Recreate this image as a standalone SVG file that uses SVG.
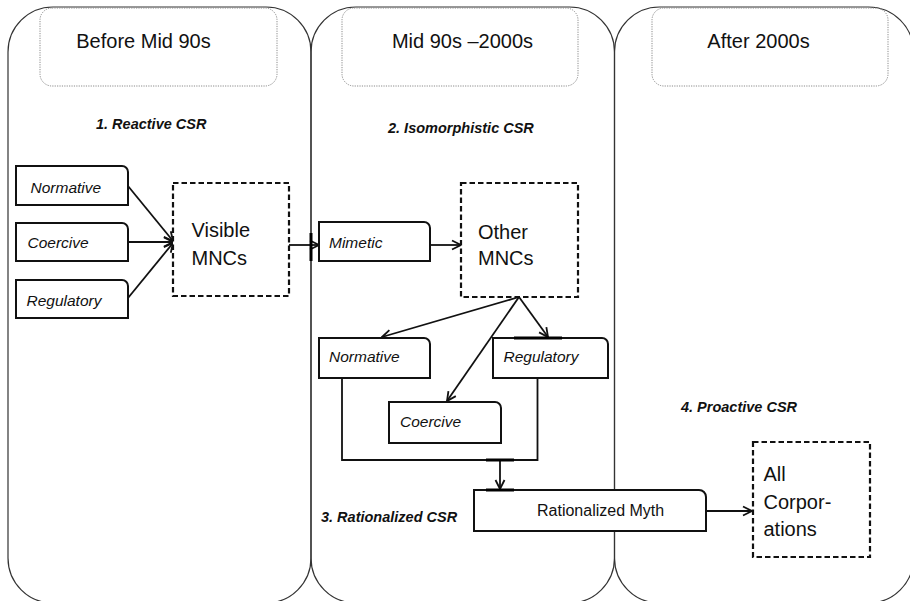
<svg xmlns="http://www.w3.org/2000/svg" width="910" height="601" viewBox="0 0 910 601">
  <defs>
    <style>
      .panel { fill: none; stroke: #333; stroke-width: 1.2; }
      .header { fill: none; stroke: #8a8a8a; stroke-width: 1; stroke-dasharray: 1.2 1.2; }
      .box { fill: #fff; stroke: #111; stroke-width: 2; }
      .dash { fill: #fff; stroke: #111; stroke-width: 2.2; stroke-dasharray: 5.5 3; }
      .conn { fill: none; stroke: #111; stroke-width: 1.8; }
      .heavy { fill: none; stroke: #000; stroke-width: 3; }
      .htext { font-family: "Liberation Sans", Arial, sans-serif; font-size: 20px; fill: #111; }
      .big { font-family: "Liberation Sans", Arial, sans-serif; font-size: 20px; fill: #111; }
      .lab { font-family: "Liberation Sans", Arial, sans-serif; font-size: 15.5px; font-style: italic; fill: #111; }
      .stage { font-family: "Liberation Sans", Arial, sans-serif; font-size: 14.5px; font-style: italic; font-weight: bold; fill: #111; }
      .myth { font-family: "Liberation Sans", Arial, sans-serif; font-size: 16px; fill: #111; }
    </style>
    <marker id="arrow" viewBox="-11 -6 12 12" refX="0" refY="0" markerWidth="12" markerHeight="12" markerUnits="userSpaceOnUse" orient="auto">
      <path d="M-9,-4.5 L0,0 L-9,4.5" fill="none" stroke="#111" stroke-width="1.8"/>
    </marker>
  </defs>

  <rect width="910" height="601" fill="#fff"/>

  <!-- period panels -->
  <g id="panels">
    <rect class="panel" x="8" y="7" width="303" height="596" rx="45" ry="45"/>
    <rect class="panel" x="311" y="7" width="303.5" height="596" rx="45" ry="45"/>
    <rect class="panel" x="614.5" y="7" width="299" height="596" rx="45" ry="45"/>
  </g>

  <!-- period headers -->
  <g id="header-before">
    <rect class="header" x="40" y="8" width="237" height="78" rx="12" ry="12"/>
    <text class="htext" x="143.5" y="48" text-anchor="middle">Before Mid 90s</text>
  </g>
  <g id="header-mid">
    <rect class="header" x="342" y="8" width="236" height="78" rx="12" ry="12"/>
    <text class="htext" x="462.5" y="48" text-anchor="middle">Mid 90s –2000s</text>
  </g>
  <g id="header-after">
    <rect class="header" x="652" y="8" width="236" height="78" rx="12" ry="12"/>
    <text class="htext" x="758.5" y="48" text-anchor="middle">After 2000s</text>
  </g>

  <!-- stage titles -->
  <g id="stage-labels">
    <text class="stage" x="96" y="129">1. Reactive CSR</text>
    <text class="stage" x="388" y="133">2. Isomorphistic CSR</text>
    <text class="stage" x="321" y="522">3. Rationalized CSR</text>
    <text class="stage" x="681" y="412">4. Proactive CSR</text>
  </g>

  <!-- connectors -->
  <g id="connectors">
    <line class="conn" x1="128" y1="186" x2="173" y2="241" marker-end="url(#arrow)"/>
    <line class="conn" x1="128" y1="242" x2="173" y2="242" marker-end="url(#arrow)"/>
    <line class="conn" x1="128" y1="298" x2="173" y2="243" marker-end="url(#arrow)"/>
    <line class="conn" x1="289" y1="245" x2="319" y2="245" marker-end="url(#arrow)"/>
    <line class="conn" x1="430" y1="245" x2="461" y2="245" marker-end="url(#arrow)"/>
    <line class="conn" x1="519" y1="297" x2="382" y2="337" marker-end="url(#arrow)"/>
    <line class="conn" x1="519" y1="297" x2="447" y2="401" marker-end="url(#arrow)"/>
    <line class="conn" x1="519" y1="297" x2="548" y2="337" marker-end="url(#arrow)"/>
    <path class="conn" d="M342,378 V460 H537.5 V378"/>
    <line class="conn" x1="500" y1="460" x2="500" y2="489" marker-end="url(#arrow)"/>
    <line class="conn" x1="706" y1="511" x2="752" y2="511" marker-end="url(#arrow)"/>
    <line class="heavy" x1="311" y1="233" x2="311" y2="261"/>
    <line class="heavy" x1="486" y1="460" x2="514" y2="460"/>
  </g>

  <!-- nodes -->
  <g id="node-normative-1">
    <path class="box" d="M16,166 H122 A6,6 0 0 1 128,172 V205 H16 Z"/>
    <text class="lab" x="30.5" y="192.5">Normative</text>
  </g>
  <g id="node-coercive-1">
    <path class="box" d="M16,223 H122 A6,6 0 0 1 128,229 V261 H16 Z"/>
    <text class="lab" x="27.5" y="247.5">Coercive</text>
  </g>
  <g id="node-regulatory-1">
    <path class="box" d="M16,280 H122 A6,6 0 0 1 128,286 V318 H16 Z"/>
    <text class="lab" x="26.5" y="306">Regulatory</text>
  </g>
  <g id="node-visible-mncs">
    <rect class="dash" x="173" y="183" width="116" height="113"/>
    <text class="big" x="191.5" y="237">Visible</text>
    <text class="big" x="191.5" y="265">MNCs</text>
  </g>
  <g id="node-mimetic">
    <path class="box" d="M319,222 H424 A6,6 0 0 1 430,228 V261 H319 Z"/>
    <text class="lab" x="329" y="247.5">Mimetic</text>
  </g>
  <g id="node-other-mncs">
    <rect class="dash" x="461" y="183" width="117" height="114"/>
    <text class="big" x="478" y="239">Other</text>
    <text class="big" x="478" y="265">MNCs</text>
  </g>
  <g id="node-normative-2">
    <path class="box" d="M319,338 H424 A6,6 0 0 1 430,344 V378 H319 Z"/>
    <text class="lab" x="329" y="362">Normative</text>
  </g>
  <g id="node-regulatory-2">
    <path class="box" d="M493,338 H602 A6,6 0 0 1 608,344 V378 H493 Z"/>
    <line class="heavy" x1="514" y1="338" x2="562" y2="338"/>
    <text class="lab" x="503.5" y="362">Regulatory</text>
  </g>
  <g id="node-coercive-2">
    <path class="box" d="M389,402 H495 A6,6 0 0 1 501,408 V443 H389 Z"/>
    <text class="lab" x="400" y="426.5">Coercive</text>
  </g>
  <g id="node-rationalized-myth">
    <path class="box" d="M474,490 H699 A7,7 0 0 1 706,497 V531 H474 Z"/>
    <line class="heavy" x1="486" y1="490" x2="514" y2="490"/>
    <text class="myth" x="537" y="516">Rationalized Myth</text>
  </g>
  <g id="node-all-corporations">
    <rect class="dash" x="753" y="442" width="117" height="115"/>
    <text class="big" x="763.5" y="481">All</text>
    <text class="big" x="763.5" y="508.5">Corpor-</text>
    <text class="big" x="763.5" y="536">ations</text>
  </g>
</svg>
